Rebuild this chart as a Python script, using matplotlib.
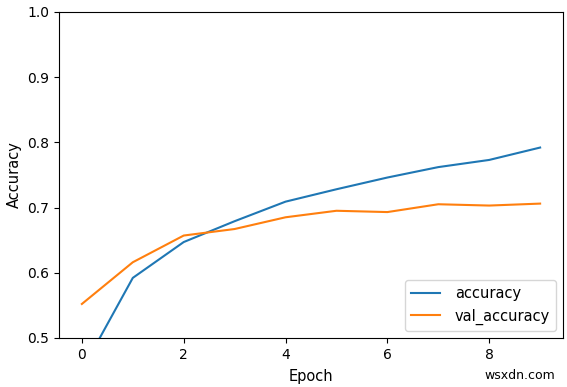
import matplotlib
matplotlib.use("Agg")
import matplotlib.pyplot as plt

epochs = [0, 1, 2, 3, 4, 5, 6, 7, 8, 9]
accuracy = [0.450, 0.592, 0.647, 0.679, 0.709, 0.728, 0.746, 0.762, 0.773, 0.792]
val_accuracy = [0.552, 0.616, 0.657, 0.667, 0.685, 0.695, 0.693, 0.705, 0.703, 0.706]

fig = plt.figure(figsize=(5.67, 3.87), dpi=100)
ax = fig.add_axes([0.104, 0.127, 0.889, 0.842])

ax.plot(epochs, accuracy, label='accuracy')
ax.plot(epochs, val_accuracy, label='val_accuracy')
ax.set_xlabel('Epoch', fontsize=10.5, labelpad=5)
ax.set_ylabel('Accuracy', fontsize=10.5)
ax.set_ylim([0.5, 1])
ax.legend(loc='lower right', fontsize=10.5, handletextpad=1.0)

fig.text(0.98, 0.012, 'wsxdn.com', ha='right', va='bottom', fontsize=9)

plt.savefig("out.png")
plt.close()
